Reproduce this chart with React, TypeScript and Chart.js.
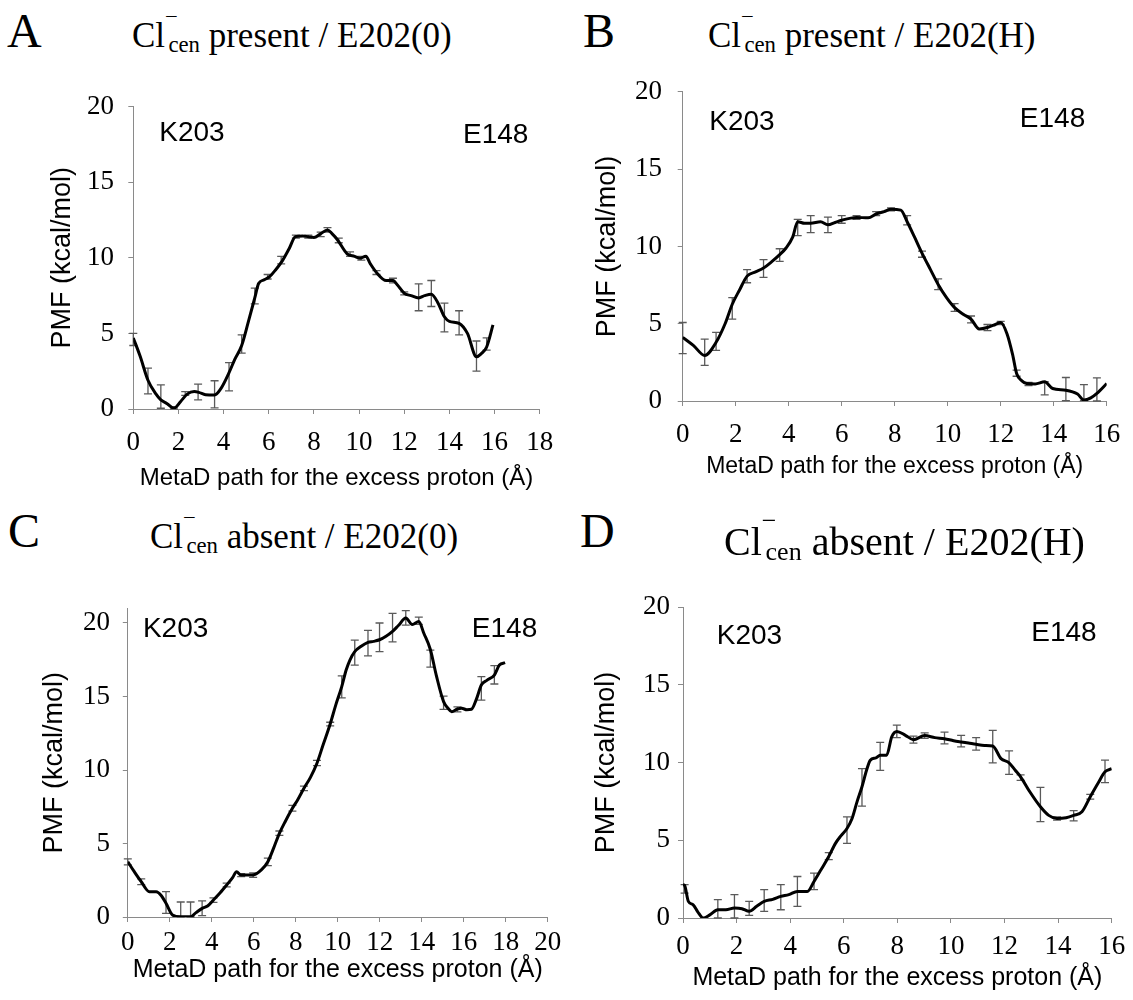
import React, { useEffect, useRef } from "react";
import { Chart, registerables } from "chart.js";

Chart.register(...registerables);

const SERIF = "Liberation Serif, Times New Roman, Times, serif";
const SANS = "Liberation Sans, Arial, Helvetica, sans-serif";

// ---------- Panel A : Cl- present / E202(0) ----------
const aX = [0, 0.3, 0.65, 1.0, 1.22, 1.5, 1.8, 2.1, 2.4, 2.7, 2.9, 3.2, 3.6, 3.9, 4.24, 4.5, 4.8, 5.1, 5.38, 5.55, 5.8, 6.03, 6.3, 6.6, 6.9, 7.18, 7.5, 7.75, 8.0, 8.3, 8.6, 8.8, 9.04, 9.47, 9.8, 10.05, 10.3, 10.5, 10.77, 11.2, 11.5, 11.7, 12.0, 12.3, 12.64, 12.9, 13.2, 13.5, 13.78, 14.0, 14.43, 14.8, 15.2, 15.4, 15.65, 15.93];
const aY = [4.7, 3.5, 1.9, 1.0, 0.6, 0.35, 0.05, 0.5, 1.0, 1.15, 1.1, 0.95, 0.93, 1.4, 2.4, 3.3, 4.2, 5.8, 7.35, 8.3, 8.55, 8.75, 9.2, 9.8, 10.6, 11.4, 11.45, 11.4, 11.35, 11.6, 11.85, 11.6, 11.2, 10.27, 10.1, 9.98, 10.1, 9.6, 9.03, 8.5, 8.5, 8.2, 7.66, 7.5, 7.35, 7.5, 7.6, 7.0, 6.1, 5.8, 5.67, 5.0, 3.45, 3.65, 4.1, 5.56];
const aErrX = [0, 0.65, 1.22, 1.8, 2.3, 2.87, 3.6, 4.24, 4.8, 5.38, 5.95, 6.55, 7.2, 7.75, 8.3, 8.6, 9.1, 9.6, 10.1, 10.77, 11.5, 12.0, 12.64, 13.2, 13.78, 14.43, 15.2, 15.65];
const aErrLo = [4.2, 1.0, 0.05, 0, 0.9, 0.6, 0.07, 1.2, 3.7, 6.95, 8.6, 9.6, 11.3, 11.3, 11.4, 11.7, 11.0, 10.1, 9.85, 8.9, 8.35, 7.55, 6.5, 6.78, 5.1, 4.9, 2.5, 3.9];
const aErrHi = [5.0, 2.7, 1.6, 0.15, 1.15, 1.65, 1.87, 3.07, 4.9, 8.0, 8.9, 10.1, 11.5, 11.5, 11.7, 12.0, 11.3, 10.4, 10.1, 9.15, 8.65, 7.75, 8.28, 8.5, 7.0, 6.5, 4.5, 4.7];

// ---------- Panel B : Cl- present / E202(H) ----------
const bX = [0, 0.4, 0.83, 1.26, 1.6, 1.87, 2.15, 2.43, 2.75, 3.05, 3.35, 3.66, 3.9, 4.15, 4.34, 4.6, 4.83, 5.2, 5.48, 5.75, 6.0, 6.56, 7.0, 7.3, 7.6, 7.86, 8.23, 8.47, 8.75, 9.03, 9.35, 9.64, 9.95, 10.26, 10.6, 10.88, 11.19, 11.5, 11.8, 12.0, 12.24, 12.45, 12.6, 12.8, 12.98, 13.3, 13.66, 13.96, 14.46, 14.9, 15.14, 15.4, 15.63, 16.0];
const bY = [4.12, 3.6, 2.95, 3.8, 5.0, 6.26, 7.2, 8.08, 8.35, 8.6, 9.0, 9.47, 9.9, 10.6, 11.6, 11.5, 11.5, 11.6, 11.4, 11.55, 11.7, 11.88, 11.85, 12.1, 12.25, 12.4, 12.35, 11.6, 10.6, 9.57, 8.5, 7.54, 6.7, 6.04, 5.6, 5.3, 4.66, 4.76, 4.95, 5.08, 4.34, 3.0, 1.78, 1.3, 1.13, 1.1, 1.24, 0.81, 0.7, 0.45, 0.06, 0.2, 0.49, 1.13];
const bErrX = [0, 0.83, 1.26, 1.87, 2.43, 3.05, 3.66, 4.34, 4.83, 5.48, 6.0, 6.56, 7.3, 7.86, 8.47, 9.03, 9.64, 10.26, 10.88, 11.5, 12.0, 12.6, 13.05, 13.66, 14.46, 15.14, 15.63];
const bErrLo = [3.06, 2.3, 3.27, 5.3, 7.65, 8.0, 9.04, 10.7, 10.9, 10.9, 11.5, 11.75, 12.0, 12.3, 11.4, 9.3, 7.2, 5.8, 5.05, 4.55, 4.95, 1.6, 1.0, 0.4, 0.03, 0.03, 0.0];
const bErrHi = [5.08, 4.0, 4.44, 6.69, 8.5, 9.15, 9.85, 11.75, 12.0, 11.9, 12.0, 12.0, 12.25, 12.5, 12.0, 9.7, 7.9, 6.3, 5.5, 4.95, 5.15, 2.0, 1.2, 1.25, 1.52, 1.06, 1.5];

// ---------- Panel C : Cl- absent / E202(0) ----------
const cX = [0, 0.3, 0.64, 1.03, 1.35, 1.6, 1.82, 2.13, 2.52, 2.99, 3.25, 3.54, 3.8, 4.08, 4.4, 4.71, 5.0, 5.18, 5.4, 5.97, 6.36, 6.67, 6.95, 7.22, 7.5, 7.84, 8.1, 8.39, 8.7, 9.01, 9.3, 9.64, 9.9, 10.19, 10.4, 10.58, 10.81, 11.1, 11.44, 11.7, 11.99, 12.3, 12.61, 12.9, 13.24, 13.55, 13.86, 14.1, 14.41, 14.7, 15.04, 15.25, 15.43, 15.7, 15.9, 16.15, 16.37, 16.6, 16.84, 17.1, 17.46, 17.7, 17.97];
const cY = [3.76, 3.1, 2.4, 1.72, 1.72, 1.45, 0.93, 0.14, 0.02, 0.02, 0.3, 0.59, 0.75, 1.16, 1.65, 2.18, 2.7, 3.08, 2.85, 2.86, 3.2, 3.76, 4.7, 5.69, 6.5, 7.39, 8.0, 8.76, 9.5, 10.46, 11.7, 13.13, 14.4, 15.67, 16.8, 17.48, 18.05, 18.4, 18.68, 18.75, 18.86, 19.1, 19.43, 19.85, 20.34, 19.9, 20.1, 19.3, 18.2, 16.4, 14.65, 14.2, 13.97, 14.15, 14.2, 14.1, 14.13, 14.8, 15.78, 16.1, 16.46, 17.14, 17.3];
const cErrX = [0, 0.64, 1.82, 2.52, 2.99, 3.54, 4.08, 4.71, 5.4, 5.97, 6.67, 7.22, 7.84, 8.39, 9.01, 9.64, 10.19, 10.81, 11.44, 11.99, 12.61, 13.24, 13.86, 14.41, 15.04, 15.7, 16.84, 17.46];
const cErrLo = [3.55, 2.2, 0.25, 0, 0, 0.1, 1.0, 2.05, 2.75, 2.7, 3.5, 5.55, 7.2, 8.6, 10.3, 13.0, 14.9, 17.14, 17.76, 18.05, 18.72, 19.86, 19.9, 17.0, 14.13, 13.95, 14.76, 15.85];
const cErrHi = [3.95, 2.6, 1.72, 1.02, 1.02, 1.1, 1.3, 2.3, 2.95, 3.0, 4.0, 5.85, 7.6, 8.9, 10.65, 13.25, 16.4, 18.84, 19.5, 20.0, 20.65, 20.84, 20.4, 18.16, 15.03, 14.3, 16.35, 17.1];

// ---------- Panel D : Cl- absent / E202(H) ----------
const dX = [0, 0.06, 0.2, 0.38, 0.55, 0.75, 1.0, 1.3, 1.6, 1.92, 2.2, 2.47, 2.75, 3.03, 3.35, 3.65, 3.95, 4.27, 4.64, 4.89, 5.15, 5.44, 5.69, 5.9, 6.12, 6.31, 6.5, 6.68, 6.85, 6.99, 7.2, 7.36, 7.6, 7.79, 7.98, 8.3, 8.6, 9.02, 9.4, 9.76, 10.1, 10.38, 10.65, 10.94, 11.25, 11.56, 11.87, 12.17, 12.4, 12.6, 12.95, 13.34, 13.65, 13.96, 14.3, 14.58, 14.89, 15.2, 15.5, 15.75, 16.0];
const dY = [2.15, 2.1, 1.07, 0.85, 0.4, 0.0, 0.2, 0.53, 0.53, 0.64, 0.6, 0.43, 0.75, 1.07, 1.2, 1.39, 1.5, 1.71, 1.71, 2.35, 3.1, 3.95, 4.8, 5.3, 5.76, 6.4, 7.5, 8.44, 9.5, 10.15, 10.3, 10.47, 10.47, 11.65, 12.0, 11.75, 11.47, 11.73, 11.6, 11.53, 11.4, 11.32, 11.25, 11.17, 11.1, 11.06, 10.25, 9.98, 9.5, 9.08, 8.1, 7.15, 6.6, 6.4, 6.45, 6.6, 6.83, 7.8, 8.7, 9.4, 9.6];
const dErrX = [0.06, 1.3, 1.92, 2.47, 3.03, 3.65, 4.27, 4.89, 5.44, 6.12, 6.68, 7.36, 7.98, 8.6, 9.02, 9.76, 10.38, 10.94, 11.56, 12.17, 12.6, 13.34, 13.96, 14.58, 15.2, 15.75];
const dErrLo = [1.6, 0, 0, 0.17, 0.43, 0.53, 0.75, 1.82, 3.75, 4.8, 7.2, 9.5, 11.6, 11.25, 11.55, 11.2, 11.0, 10.8, 9.97, 9.23, 8.85, 6.2, 6.3, 6.25, 7.65, 8.7];
const dErrHi = [2.15, 1.18, 1.5, 1.07, 1.82, 2.14, 2.67, 2.88, 4.2, 6.5, 9.6, 11.3, 12.4, 11.7, 11.9, 11.95, 11.75, 11.6, 12.07, 10.75, 9.2, 8.4, 6.5, 6.9, 7.95, 10.15];

// Axis ranges / tick labels
const xTitleText = "MetaD path for the excess proton (Å)";
const yTitleText = "PMF (kcal/mol)";
const xStep = 2;
const yStep = 5;

type Panel = {
  letter: string;
  state: string;
  e202: string;
  xs: number[]; ys: number[];
  ex: number[]; lo: number[]; hi: number[];
  xMax: number; yMax: number;
  kPos: [number, number]; ePos: [number, number];
  left: number; top: number; w: number; h: number;
  chartL: number; chartR: number; chartT: number; chartB: number;
  yTitleX: number; yTickGap: number; xTickY: number; xTitleY: number; xTitleSize: number;
  letterX: number; letterBase: number; titleX: number; titleBase: number; titleSize: number;
};

const PANELS: Panel[] = [
  {
    letter: "A", state: "present", e202: "0", xs: aX, ys: aY, ex: aErrX, lo: aErrLo, hi: aErrHi,
    xMax: 18, yMax: 20, kPos: [1.15, 17.75], ePos: [17.5, 17.6],
    left: 0, top: 60, w: 566, h: 440, chartL: 133.3, chartR: 551, chartT: 106.7, chartB: 409,
    yTitleX: 63, yTickGap: 19.3, xTickY: 443, xTitleY: 478, xTitleSize: 24,
    letterX: 7, letterBase: 47, titleX: 132, titleBase: 47, titleSize: 35,
  },
  {
    letter: "B", state: "present", e202: "H", xs: bX, ys: bY, ex: bErrX, lo: bErrLo, hi: bErrHi,
    xMax: 16, yMax: 20, kPos: [1.0, 17.56], ePos: [15.19, 17.7],
    left: 566, top: 60, w: 567, h: 440, chartL: 682.7, chartR: 1115, chartT: 88.5, chartB: 401,
    yTitleX: 608, yTickGap: 20.7, xTickY: 435, xTitleY: 467, xTitleSize: 23,
    letterX: 583, letterBase: 47, titleX: 708, titleBase: 47, titleSize: 35,
  },
  {
    letter: "C", state: "absent", e202: "0", xs: cX, ys: cY, ex: cErrX, lo: cErrLo, hi: cErrHi,
    xMax: 20, yMax: 21, kPos: [0.72, 19.05], ePos: [19.5, 19.05],
    left: 0, top: 560, w: 566, h: 440, chartL: 127.8, chartR: 553, chartT: 608.3, chartB: 917,
    yTitleX: 55, yTickGap: 17.8, xTickY: 943, xTitleY: 970, xTitleSize: 25,
    letterX: 8, letterBase: 547, titleX: 150, titleBase: 548, titleSize: 35,
  },
  {
    letter: "D", state: "absent", e202: "H", xs: dX, ys: dY, ex: dErrX, lo: dErrLo, hi: dErrHi,
    xMax: 16, yMax: 20, kPos: [1.26, 17.6], ePos: [15.44, 17.8],
    left: 566, top: 560, w: 567, h: 440, chartL: 683, chartR: 1115, chartT: 607, chartB: 918,
    yTitleX: 607, yTickGap: 13, xTickY: 947, xTitleY: 978, xTitleSize: 25,
    letterX: 580, letterBase: 547, titleX: 724, titleBase: 555, titleSize: 40,
  },
];

const AXIS_COLOR = "#8a8a8a";
const TICK_LEN = 5;
const TICK_SIZE = 27;
const YTITLE_SIZE = 27;

function PanelChart({ p }: { p: Panel }) {
  const ref = useRef<HTMLCanvasElement | null>(null);
  useEffect(() => {
    const canvas = ref.current;
    if (!canvas) return;
    const yw = p.chartL - p.left;
    const xh = p.top + p.h - p.chartB;
    const padTop = p.chartT - p.top;
    const padRight = p.left + p.w - p.chartR;
    const yTitlePad = p.yTitleX - p.left - (YTITLE_SIZE * 1.2) / 2;
    const xTitlePad = p.top + p.h - p.xTitleY - (p.xTitleSize * 1.2) / 2;
    const xTickPad = p.xTickY - p.chartB - TICK_LEN - (TICK_SIZE * 1.2) / 2;
    const yTickPad = p.yTickGap - TICK_LEN;

    const extras = {
      id: "extras" + p.letter,
      beforeDatasetsDraw(chart: any) {
        const { ctx, scales } = chart;
        const xs = scales.x, ys = scales.y;
        ctx.save();
        ctx.strokeStyle = "#5a5a5a";
        ctx.lineWidth = 1.3;
        for (let i = 0; i < p.ex.length; i++) {
          const px = xs.getPixelForValue(p.ex[i]);
          const y1 = ys.getPixelForValue(p.lo[i]);
          const y2 = ys.getPixelForValue(p.hi[i]);
          ctx.beginPath();
          ctx.moveTo(px, y1); ctx.lineTo(px, y2);
          ctx.moveTo(px - 4, y1); ctx.lineTo(px + 4, y1);
          ctx.moveTo(px - 4, y2); ctx.lineTo(px + 4, y2);
          ctx.stroke();
        }
        ctx.restore();
      },
      afterDatasetsDraw(chart: any) {
        const { ctx, scales } = chart;
        ctx.save();
        ctx.fillStyle = "#000";
        ctx.font = `28px ${SANS}`;
        ctx.textBaseline = "alphabetic";
        ctx.textAlign = "left";
        ctx.fillText("K203", scales.x.getPixelForValue(p.kPos[0]), scales.y.getPixelForValue(p.kPos[1]));
        ctx.textAlign = "right";
        ctx.fillText("E148", scales.x.getPixelForValue(p.ePos[0]), scales.y.getPixelForValue(p.ePos[1]));
        ctx.restore();
      },
    };

    const chart = new Chart(canvas, {
      type: "line",
      data: {
        datasets: [
          {
            data: p.xs.map((x, i) => ({ x, y: p.ys[i] })),
            borderColor: "#000",
            borderWidth: 3,
            pointRadius: 0,
            cubicInterpolationMode: "monotone",
            fill: false,
          },
        ],
      },
      options: {
        responsive: false,
        animation: false,
        events: [],
        layout: { padding: { left: 0, top: padTop, right: padRight, bottom: 0 } },
        plugins: { legend: { display: false }, tooltip: { enabled: false }, title: { display: false } },
        scales: {
          x: {
            type: "linear",
            min: 0,
            max: p.xMax,
            afterFit: (s: any) => { s.height = xh; },
            ticks: {
              stepSize: xStep, autoSkip: false, maxRotation: 0, includeBounds: false,
              color: "#000", font: { family: SERIF, size: TICK_SIZE }, padding: xTickPad,
            },
            grid: { drawOnChartArea: false, drawTicks: true, tickLength: TICK_LEN, color: AXIS_COLOR, lineWidth: 1 },
            border: { display: true, color: AXIS_COLOR, width: 1 },
            title: {
              display: true, text: xTitleText, color: "#000",
              font: { family: SANS, size: p.xTitleSize }, padding: { top: 0, bottom: xTitlePad },
            },
          },
          y: {
            type: "linear",
            min: 0,
            max: p.yMax,
            afterFit: (s: any) => { s.width = yw; },
            ticks: {
              stepSize: yStep, includeBounds: false,
              color: "#000", font: { family: SERIF, size: TICK_SIZE }, padding: yTickPad,
            },
            grid: { drawOnChartArea: false, drawTicks: true, tickLength: TICK_LEN, color: AXIS_COLOR, lineWidth: 1 },
            border: { display: true, color: AXIS_COLOR, width: 1 },
            title: {
              display: true, text: yTitleText, color: "#000",
              font: { family: SANS, size: YTITLE_SIZE }, padding: { top: yTitlePad, bottom: 0 },
            },
          },
        },
      } as any,
      plugins: [extras],
    });
    return () => chart.destroy();
  }, [p]);

  return (
    <canvas
      ref={ref}
      width={p.w}
      height={p.h}
      style={{ position: "absolute", left: p.left, top: p.top, width: p.w, height: p.h }}
    />
  );
}

const LETTER_SIZE = 48;

function PanelTitle({ p }: { p: Panel }) {
  const ts = p.titleSize;
  return (
    <>
      <div
        style={{
          position: "absolute", left: p.letterX, top: p.letterBase - 0.8375 * LETTER_SIZE,
          fontFamily: SERIF, fontSize: LETTER_SIZE, lineHeight: `${LETTER_SIZE}px`, color: "#000", whiteSpace: "nowrap",
        }}
      >
        {p.letter}
      </div>
      <div
        style={{
          position: "absolute", left: p.titleX, top: p.titleBase - 0.8375 * ts,
          fontFamily: SERIF, fontSize: ts, lineHeight: `${ts}px`, color: "#000", whiteSpace: "nowrap",
        }}
      >
        Cl
        <span style={{ fontSize: "0.65em", position: "relative", top: "-1.0em" }}>−</span>
        <span style={{ fontSize: "0.65em", position: "relative", top: "0.22em", marginLeft: "-0.42em" }}>cen</span>
        {` ${p.state} / E202(${p.e202})`}
      </div>
    </>
  );
}

export default function App() {
  return (
    <div style={{ position: "absolute", left: 0, top: 0, width: 1133, height: 1000, background: "#fff", overflow: "hidden" }}>
      {PANELS.map((p) => (
        <React.Fragment key={p.letter}>
          <PanelChart p={p} />
          <PanelTitle p={p} />
        </React.Fragment>
      ))}
    </div>
  );
}
